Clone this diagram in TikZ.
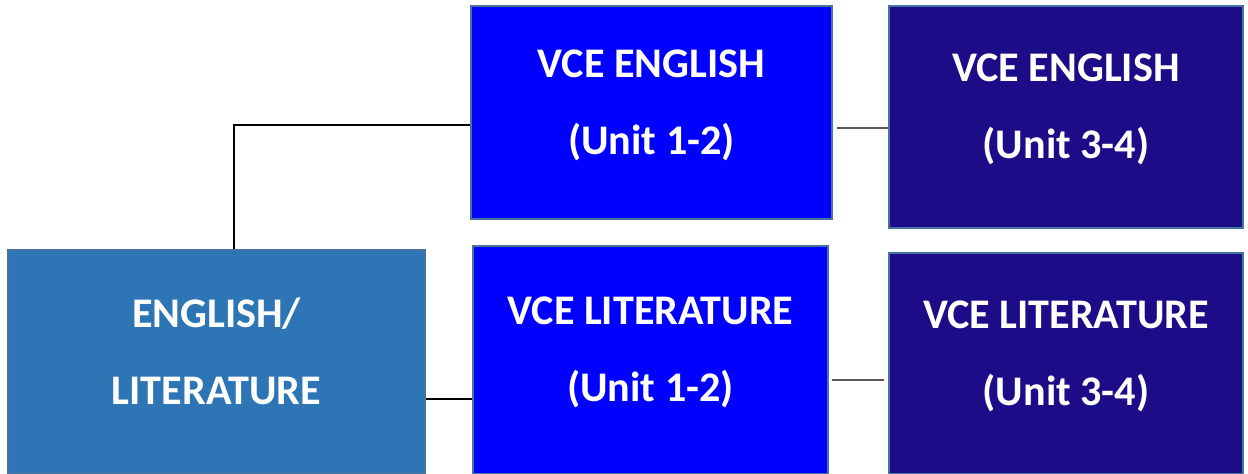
\documentclass[tikz,border=0pt]{standalone}
\usepackage{fontspec}
\setmainfont{Carlito}
\usepackage{tikz}

\definecolor{litblue}{RGB}{46,117,182}
\definecolor{unitblue}{RGB}{0,0,255}
\definecolor{darkunit}{RGB}{28,12,135}
\definecolor{edgeblue}{RGB}{70,115,160}

\tikzset{
  box/.style={draw=edgeblue, line width=1.1pt, text=white, align=center,
    font=\fontsize{24}{44}\selectfont\bfseries, inner sep=0pt},
  link/.style={draw=black, line width=0.8pt}
}

\begin{document}
\begin{tikzpicture}
        \useasboundingbox (0, 0) rectangle (24.96, 9.48);

        \node[box, fill=litblue, minimum width=8.34cm, minimum height=4.48cm] (lit) at (4.33, 2.24) {ENGLISH/\\LITERATURE\\[-32pt]};
        \node[box, fill=unitblue, minimum width=7.22cm, minimum height=4.26cm] (eng12) at (13.03, 7.23) {VCE ENGLISH\\(Unit 1-2)\\[-32pt]};
        \node[box, fill=unitblue, minimum width=7.1cm, minimum height=4.56cm] (lit12) at (13.01, 2.28) {VCE LITERATURE\\(Unit 1-2)\\[-32pt]};
        \node[box, fill=darkunit, minimum width=7.08cm, minimum height=4.44cm] (eng34) at (21.32, 7.14) {VCE ENGLISH\\(Unit 3-4)\\[-32pt]};
        \node[box, fill=darkunit, minimum width=7.08cm, minimum height=4.42cm] (lit34) at (21.32, 2.21) {VCE LITERATURE\\(Unit 3-4)\\[-32pt]};

        \draw[link] ([xshift=0.35cm]lit.north) |- ([yshift=-0.25cm]eng12.west);
        \draw[link] ([shift={(0.08,-0.31)}]eng12.east) -- ([yshift=-0.22cm]eng34.west);
        \draw[link] ([yshift=-0.74cm]lit.east) -- ([yshift=-0.78cm]lit12.west);
        \draw[link] ([shift={(0.06,-0.4)}]lit12.east) -- ([shift={(-0.08,-0.33)}]lit34.west);
      \end{tikzpicture}
\end{document}
